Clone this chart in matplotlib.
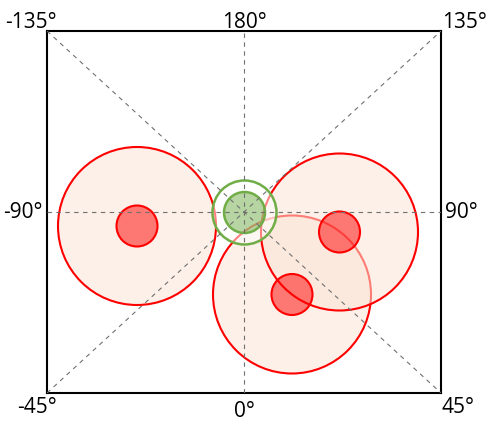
import matplotlib
matplotlib.use("Agg")
import matplotlib.pyplot as plt
from matplotlib.patches import Circle

# Data (pixel-like units relative to plot centre)
big_x = [-107.0, 48.0, 95.5]
big_y = [-14.0, -82.5, -20.0]
big_r = [79.0, 79.0, 78.5]
small_r = [20.5, 20.5, 20.5]
green_xy = (0.5, -0.5)
green_inner_r = 20.5
green_outer_r = 32.0

half_w, half_h = 197.0, 181.0
tick_labels = {
    "top_left": "-135°", "top": "180°", "top_right": "135°",
    "left": "-90°", "right": "90°",
    "bottom_left": "-45°", "bottom": "0°", "bottom_right": "45°",
}

plt.rcParams['font.family'] = ['Open Sans', 'DejaVu Sans']

fig = plt.figure(figsize=(4.94, 4.25), dpi=100)
ax = fig.add_axes([47/494, 32/425, 394/494, 362/425])
ax.set_xlim(-half_w, half_w)
ax.set_ylim(-half_h, half_h)
ax.set_xticks([]); ax.set_yticks([])
for s in ax.spines.values():
    s.set_linewidth(1.5)
    s.set_color('black')

# dashed guide lines
gl = dict(color='#707070', lw=0.8, ls=(0, (4, 4)), zorder=10)
ax.plot([-half_w, half_w], [0, 0], **gl)
ax.plot([0, 0], [-half_h, half_h], **gl)
ax.plot([-half_w, half_w], [-half_h, half_h], **gl)
ax.plot([-half_w, half_w], [half_h, -half_h], **gl)

for x, y, r in zip(big_x, big_y, big_r):
    ax.add_patch(Circle((x, y), r, facecolor=(251/255, 229/255, 214/255, 0.55),
                        edgecolor='red', lw=1.5, zorder=2))
for x, y, r in zip(big_x, big_y, small_r):
    ax.add_patch(Circle((x, y), r, facecolor=(1, 0, 0, 0.5),
                        edgecolor='red', lw=1.5, zorder=3))

ax.add_patch(Circle(green_xy, green_outer_r, facecolor=(1, 1, 1, 0.5),
                    edgecolor='#70ad47', lw=1.8, zorder=4))
ax.add_patch(Circle(green_xy, green_inner_r, facecolor=(112/255, 173/255, 71/255, 0.5),
                    edgecolor='#70ad47', lw=1.8, zorder=5))

fs = 15
ax.text(0, half_h + 3, tick_labels["top"], ha='center', va='baseline', fontsize=fs)
ax.text(-half_w + 10, half_h + 3, tick_labels["top_left"], ha='right', va='baseline', fontsize=fs)
ax.text(half_w + 1, half_h + 3, tick_labels["top_right"], ha='left', va='baseline', fontsize=fs)
ax.text(-half_w - 4, 0, tick_labels["left"], ha='right', va='center', fontsize=fs)
ax.text(half_w + 4, 0, tick_labels["right"], ha='left', va='center', fontsize=fs)
ax.text(-half_w + 10, -half_h - 20, tick_labels["bottom_left"], ha='right', va='baseline', fontsize=fs)
ax.text(0, -half_h - 24, tick_labels["bottom"], ha='center', va='baseline', fontsize=fs)
ax.text(half_w + 1, -half_h - 20, tick_labels["bottom_right"], ha='left', va='baseline', fontsize=fs)

fig.savefig("out.png", dpi=100)
